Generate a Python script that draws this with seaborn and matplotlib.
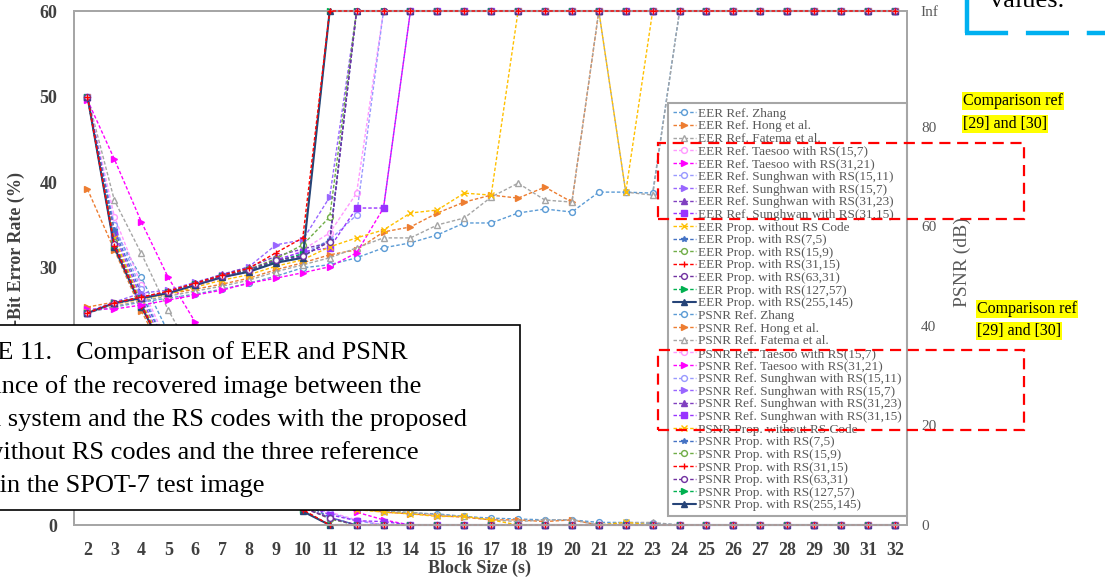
import numpy as np
import pandas as pd
import matplotlib
matplotlib.use("Agg")
import matplotlib.pyplot as plt
import seaborn as sns
from matplotlib.patches import Rectangle
from matplotlib.lines import Line2D

W, H = 1105, 584
sns.set_theme(style="white")
plt.rcParams['font.family'] = ['Liberation Serif', 'DejaVu Serif']

INF = np.inf
block_size = list(range(2, 33))

methods = ["Ref. Zhang", "Ref. Hong et al.", "Ref. Fatema et al.",
           "Ref. Taesoo with RS(15,7)", "Ref. Taesoo with RS(31,21)",
           "Ref. Sunghwan with RS(15,11)", "Ref. Sunghwan with RS(15,7)",
           "Ref. Sunghwan with RS(31,23)", "Ref. Sunghwan with RS(31,15)",
           "Prop. without RS Code", "Prop. with RS(7,5)", "Prop. with RS(15,9)",
           "Prop. with RS(31,15)", "Prop. with RS(63,31)", "Prop. with RS(127,57)",
           "Prop. with RS(255,145)"]

# EER (%) per block size 2..32
eer_zhang = [50, 34.4, 28.9, 22.5, 17, 12.5, 9, 6, 4, 2.0, 1.8, 1.6, 1.4, 1.3, 1.0, 0.8, 0.7, 0.6, 0.6, 0.3, 0.3, 0.2] + [0]*9
eer_hong = [39.2, 32.1, 25.0, 19.0, 14.5, 10.5, 7.5, 5.0, 3.5, 2.2, 2.0, 1.5, 1.3, 1.1, 0.9, 0.6, 0.6, 0.4, 0.6] + [0]*12
eer_fatema = [50, 37.9, 31.7, 25.1, 19.5, 15, 11, 8, 5.5, 3.0, 2.2, 1.6, 1.5, 1.2, 1.0, 0.6, 0.4, 0.6, 0.6] + [0] + [0.3, 0.3] + [0]*9
eer_taesoo_15_7 = [50, 36.0, 28.0, 21.0, 15.5, 11.0, 7.5, 4.8, 2.8, 1.5, 0.6] + [0]*20
eer_taesoo_31_21 = [49.6, 42.7, 35.4, 28.9, 23.7, 18.5, 14.0, 10.0, 6.5, 3.5, 1.5, 0.6] + [0]*19
eer_sunghwan_15_11 = [50, 35.0, 27.5, 20.5, 15.0, 10.5, 7.0, 4.5, 2.6, 1.4, 0.5] + [0]*20
eer_sunghwan_15_7 = [50, 33.5, 26.0, 19.8, 14.5, 10.2, 6.8, 4.2, 2.2, 0.8] + [0]*21
eer_sunghwan_31_23 = [50, 33.0, 25.8, 19.6, 14.3, 10.0, 6.6, 4.0, 2.0, 0.9] + [0]*21
eer_sunghwan_31_15 = [50, 34.0, 26.5, 20.0, 14.8, 10.4, 7.0, 4.4, 2.5, 1.2, 0.5, 0.4] + [0]*19
eer_prop_none = [50, 33.5, 26.0, 20.0, 15.0, 11.0, 8.0, 5.5, 3.5, 2.2, 1.8, 1.5, 1.3, 1.0, 1.0, 0.6] + [0]*4 + [0.3] + [0]*10
eer_prop_7_5 = [50, 34.4, 27.0, 20.5, 15.0, 10.8, 7.2, 4.6, 2.6, 0.9] + [0]*21
eer_prop_15_9 = [50, 33.0, 25.8, 19.6, 14.5, 10.3, 6.9, 4.3, 2.2, 0.7] + [0]*21
eer_prop_31_15 = [50, 32.6, 25.6, 19.5, 14.4, 10.2, 6.8, 4.2, 1.8] + [0]*22
eer_prop_63_31 = [50, 32.8, 25.7, 19.6, 14.5, 10.3, 6.9, 4.3, 2.0, 0.8] + [0]*21
eer_prop_127_57 = [50, 32.5, 25.5, 19.5, 14.4, 10.2, 6.8, 4.2, 1.7] + [0]*22
eer_prop_255_145 = [50, 32.4, 25.5, 19.5, 14.5, 10.5, 7.0, 4.5, 1.6] + [0]*22

# PSNR (dB) per block size 2..32 (INF = perfect recovery)
psnr_zhang = [42.8, 43.8, 44.8, 45.6, 46.4, 47.4, 48.6, 50.0, 51.7, 52.3, 53.7, 55.7, 56.7, 58.3, 60.7, 60.7, 62.7, 63.5, 62.9, 66.9, 66.9, 66.7] + [INF]*9
psnr_hong = [43.8, 44.8, 45.6, 46.4, 47.4, 48.4, 49.6, 51.3, 52.7, 54.3, 55.3, 58.9, 59.9, 62.7, 64.9, 66.3, 65.7, 67.9, 64.9] + [INF]*12
psnr_fatema = [42.6, 44.0, 45.0, 46.0, 47.0, 48.0, 49.2, 50.9, 52.3, 53.7, 55.7, 57.7, 57.7, 60.3, 61.7, 65.9, 68.7, 65.3, 64.9] + [INF] + [66.9, 66.3] + [INF]*9
psnr_taesoo_15_7 = [42.7, 44.4, 45.5, 46.5, 48.0, 49.6, 50.9, 52.7, 55.3, 58.7, 66.7] + [INF]*20
psnr_taesoo_31_21 = [43.4, 43.4, 44.2, 45.2, 46.2, 47.2, 48.6, 49.6, 50.7, 51.9, 54.7, 63.7] + [INF]*19
psnr_sunghwan_15_11 = [42.7, 44.5, 45.5, 46.6, 48.1, 49.8, 51.0, 52.9, 54.5, 57.3, 62.3] + [INF]*20
psnr_sunghwan_15_7 = [42.9, 44.8, 46.6, 47.2, 48.8, 50.3, 51.9, 56.3, 57.3, 65.9] + [INF]*21
psnr_sunghwan_31_23 = [42.7, 44.6, 45.8, 46.9, 48.6, 50.4, 51.8, 54.0, 55.5, 56.7] + [INF]*21
psnr_sunghwan_31_15 = [42.6, 44.5, 45.6, 46.7, 48.3, 50.0, 51.3, 53.3, 54.9, 55.7, 63.7, 63.7] + [INF]*19
psnr_prop_none = [42.8, 44.4, 45.4, 46.4, 47.8, 49.2, 50.3, 52.0, 53.3, 55.9, 57.7, 59.3, 62.7, 63.3, 66.7, 66.3] + [INF]*4 + [66.9] + [INF]*10
psnr_prop_7_5 = [42.6, 44.6, 45.6, 46.7, 48.3, 49.9, 51.0, 52.9, 53.9, 57.3] + [INF]*21
psnr_prop_15_9 = [42.6, 44.6, 45.7, 46.9, 48.5, 50.1, 51.4, 53.5, 56.3, 61.9] + [INF]*21
psnr_prop_31_15 = [42.6, 44.7, 45.8, 47.0, 48.6, 50.2, 51.6, 54.7, 57.7] + [INF]*22
psnr_prop_63_31 = [42.6, 44.6, 45.7, 46.8, 48.4, 50.0, 51.3, 53.2, 54.1, 56.9] + [INF]*21
psnr_prop_127_57 = [42.6, 44.6, 45.7, 46.8, 48.4, 50.0, 51.2, 53.0, 54.5] + [INF]*22
psnr_prop_255_145 = [42.6, 44.6, 45.6, 46.6, 48.2, 49.8, 50.9, 52.7, 53.7] + [INF]*22

eer_all = [eer_zhang, eer_hong, eer_fatema, eer_taesoo_15_7, eer_taesoo_31_21,
           eer_sunghwan_15_11, eer_sunghwan_15_7, eer_sunghwan_31_23, eer_sunghwan_31_15,
           eer_prop_none, eer_prop_7_5, eer_prop_15_9, eer_prop_31_15, eer_prop_63_31,
           eer_prop_127_57, eer_prop_255_145]
psnr_all = [psnr_zhang, psnr_hong, psnr_fatema, psnr_taesoo_15_7, psnr_taesoo_31_21,
            psnr_sunghwan_15_11, psnr_sunghwan_15_7, psnr_sunghwan_31_23, psnr_sunghwan_31_15,
            psnr_prop_none, psnr_prop_7_5, psnr_prop_15_9, psnr_prop_31_15, psnr_prop_63_31,
            psnr_prop_127_57, psnr_prop_255_145]

colors = ["#5B9BD5", "#ED7D31", "#A5A5A5", "#FF99FF", "#FF00FF", "#9999FF", "#9966FF",
          "#8040C0", "#9933FF", "#FFC000", "#4472C4", "#70AD47", "#FF0000", "#7030A0",
          "#00B050", "#264478"]
markers = ["o", ">", "^", "o", ">", "o", ">", "^", "s", "x", "*", "o", "+", "o", ">", "^"]
open_m = [True, False, True, True, False, True, False, False, False, False, False, True, False, True, False, False]
zorders = [2.0]*16
zorders[12] = 2.6   # red drawn over the others at the Inf / 0 levels
zorders[13] = 2.5

fig = plt.figure(figsize=(W/100, H/100), dpi=100)
ax = fig.add_axes([74/W, (H-525)/H, 833/W, 514/H])
ax2 = ax.twinx()
PSNR_TOP = 103.3
ax.set_xlim(1.5, 32.45)
ax.set_ylim(0, 60)
ax2.set_ylim(0, PSNR_TOP)

def style_kw(i):
    ls = "-" if i == 15 else (0, (2.5, 1.5))
    lw = 1.5 if i == 15 else 1.0
    return dict(color=colors[i], marker=markers[i], markersize=4.2, linestyle=ls, linewidth=lw,
                markerfacecolor=("white" if open_m[i] else colors[i]), markeredgecolor=colors[i],
                markeredgewidth=1.0, clip_on=False, zorder=zorders[i])

eer_lines, psnr_lines = [], []
for i, m in enumerate(methods):
    sns.lineplot(x=block_size, y=eer_all[i], ax=ax, legend=False, errorbar=None, **style_kw(i))
    ln = ax.lines[-1]; ln.set_label("EER " + m); eer_lines.append(ln)
for i, m in enumerate(methods):
    yv = np.where(np.isinf(np.array(psnr_all[i], float)), PSNR_TOP, psnr_all[i])
    sns.lineplot(x=block_size, y=yv, ax=ax2, legend=False, errorbar=None, **style_kw(i))
    ln = ax2.lines[-1]; ln.set_label("PSNR " + m); psnr_lines.append(ln)

for a in (ax, ax2):
    for s in a.spines.values():
        s.set_color("#A6A6A6"); s.set_linewidth(1.3)
    a.grid(False)

ax.set_xticks(block_size)
ax.set_xticklabels([str(v) for v in block_size])
ax.set_yticks([0, 10, 20, 30, 40, 50, 60])
ax.tick_params(axis="both", length=0, labelsize=13, labelcolor="#404040")
ax.tick_params(axis="x", pad=12)
ax.tick_params(axis="y", pad=12)
for t in ax.get_xticklabels() + ax.get_yticklabels():
    t.set_fontweight("bold")
ax2.set_yticks([0, 20, 40, 60, 80, PSNR_TOP])
ax2.set_yticklabels(["0", "20", "40", "60", "80", "Inf"])
ax2.tick_params(axis="y", length=0, labelsize=11, labelcolor="#595959", pad=10)
ax.set_xlabel(""); ax.set_ylabel(""); ax2.set_ylabel("")

fig.text(480/W, 1-568/H, "Block Size (s)", ha="center", va="center", fontsize=13,
         fontweight="bold", color="#404040")
fig.text(16/W, 1-172/H, "Extracted-Bit Error Rate (%)", rotation=90, ha="center", va="top",
         fontsize=13, fontweight="bold", color="#404040")
fig.text(962/W, 1-262/H, "PSNR (dB)", rotation=90, ha="center", va="center",
         fontsize=14, color="#595959")

handles = eer_lines + psnr_lines
leg = fig.legend(handles, [h.get_label() for h in handles], loc="upper left",
                 bbox_to_anchor=(668/W, 1-103/H), fontsize=9.5, labelspacing=0.03,
                 handlelength=1.8, handletextpad=0.15, borderpad=0.35, borderaxespad=0,
                 frameon=True, fancybox=False, edgecolor="#A6A6A6", framealpha=1)
leg.get_frame().set_linewidth(1.5)
for t in leg.get_texts():
    t.set_color("#595959")
leg.set_zorder(5)

def frect(x0, y0, x1, y1, **kw):
    return Rectangle((x0/W, 1-y1/H), (x1-x0)/W, (y1-y0)/H, transform=fig.transFigure, **kw)

for (y0, y1) in [(143, 219), (350, 430)]:
    fig.patches.append(frect(658, y0, 1024, y1, fill=False, edgecolor="red", linewidth=1.6,
                             linestyle=(0, (5, 3)), zorder=8))

# annotations
for (x0, ya, yb) in [(963, 101, 124), (977, 309, 331)]:
    for yy, s in [(ya, "Comparison ref"), (yb, "[29] and [30]")]:
        fig.text(x0/W, 1-yy/H, s, ha="left", va="center", fontsize=11.5, color="black",
                 bbox=dict(facecolor="#FFFF00", edgecolor="none", pad=0.6), zorder=9)

# blue dashed box (partial)
fig.lines.append(Line2D([967/W, 967/W], [1-33/H, 1+20/H], transform=fig.transFigure,
                        color="#00B0F0", linewidth=3.2, linestyle=(0, (9.7, 4.0)),
                        solid_capstyle="butt", dash_capstyle="butt", zorder=9))
fig.lines.append(Line2D([965/W, 1130/W], [1-33/H, 1-33/H], transform=fig.transFigure,
                        color="#00B0F0", linewidth=3.2, linestyle=(0, (9.7, 4.0)),
                        solid_capstyle="butt", dash_capstyle="butt", zorder=9))
fig.text(990/W, 1-7/H, "values.", ha="left", va="baseline", fontsize=19, color="black", zorder=9)

# caption box
fig.patches.append(frect(-10, 325, 520, 510, facecolor="white", edgecolor="black",
                         linewidth=1.2, zorder=10))
xl = -82
fig.text(xl/W, 1-359/H, "FIGURE 11.", ha="left", va="baseline", fontsize=19, color="black", zorder=11)
fig.text(76/W, 1-359/H, "Comparison of EER and PSNR", ha="left", va="baseline", fontsize=19,
         color="black", zorder=11)
cap_lines = [(393, 421, "performance of the recovered image between the"),
             (426, 467, "proposed system and the RS codes with the proposed"),
             (459, 419, "system without RS codes and the three reference"),
             (492, 264, "papers in the SPOT-7 test image")]
for yb, xr, s in cap_lines:
    fig.text(xr/W, 1-yb/H, s, ha="right", va="baseline", fontsize=19, color="black", zorder=11)

fig.savefig("out.png", dpi=100)
